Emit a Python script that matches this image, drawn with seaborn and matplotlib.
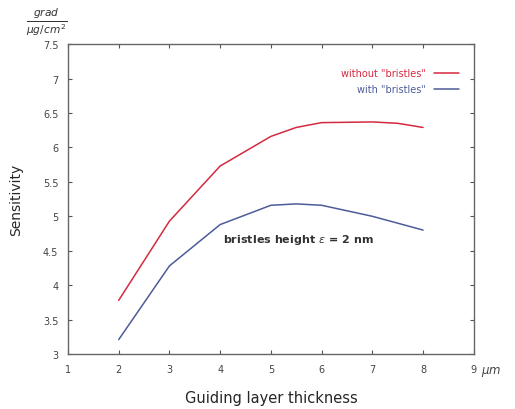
import pandas as pd
import matplotlib
matplotlib.use("Agg")
from matplotlib import pyplot as plt
import seaborn as sns

thickness = [2, 3, 4, 5, 5.5, 6, 7, 7.5, 8]
without_bristles = [3.78, 4.93, 5.73, 6.16, 6.29, 6.36, 6.37, 6.35, 6.29]
with_bristles = [3.21, 4.28, 4.88, 5.16, 5.18, 5.16, 5.0, 4.9, 4.8]
x_ticks = [1, 2, 3, 4, 5, 6, 7, 8, 9]
y_ticks = [3, 3.5, 4, 4.5, 5, 5.5, 6, 6.5, 7, 7.5]
series_names = ['without "bristles"', 'with "bristles"']

df = pd.concat([
    pd.DataFrame({"thickness": thickness, "sens": without_bristles, "series": series_names[0]}),
    pd.DataFrame({"thickness": thickness, "sens": with_bristles, "series": series_names[1]}),
])

sns.set_style("ticks")
plt.rcParams["font.family"] = ["DejaVu Sans"]

fig = plt.figure(figsize=(5.15, 4.1), dpi=100)
ax = fig.add_axes([0.132, 0.134, 0.788, 0.756])

sns.lineplot(
    data=df, x="thickness", y="sens", hue="series",
    palette={series_names[0]: "#d42a40", series_names[1]: "#4c5c98"},
    linewidth=1.1, ax=ax, legend=True,
)

ax.set_xlim(1, 9)
ax.set_ylim(3, 7.5)
ax.set_xticks(x_ticks)
ax.set_yticks(y_ticks)
ax.set_xticklabels([str(t) for t in x_ticks])
ax.set_yticklabels([f"{t:g}" for t in y_ticks])
ax.tick_params(direction="in", top=True, right=True, length=3, width=0.8,
               labelsize=7, colors="#555555", labelcolor="#444444", pad=7)
for s in ax.spines.values():
    s.set_color("#666666")
    s.set_linewidth(1.0)

ax.set_xlabel("Guiding layer thickness", fontsize=10.5, labelpad=12)
ax.set_ylabel("Sensitivity", fontsize=10, labelpad=14)

ax.legend(loc="upper right", bbox_to_anchor=(0.985, 0.95), frameon=False,
          markerfirst=False, fontsize=7, handlelength=2.6, labelspacing=0.6,
          handletextpad=0.8)
leg = ax.get_legend()
for txt, c in zip(leg.get_texts(), ["#d42a40", "#4c5c98"]):
    txt.set_color(c)

ax.text(4.05, 4.67, r"bristles height $\varepsilon$ = 2 nm", fontsize=8,
        fontweight="bold", color="#333333", va="center")
ax.annotate(r"$\mu m$", xy=(9, 3), xytext=(5, -12), textcoords="offset points",
            fontsize=8.5, color="#444444", va="center", ha="left")
fig.text(0.09, 0.946, r"$\frac{grad}{\mu g/cm^2}$", fontsize=11, ha="center",
         va="center", color="#333333")

plt.savefig("out.png", dpi=100)
